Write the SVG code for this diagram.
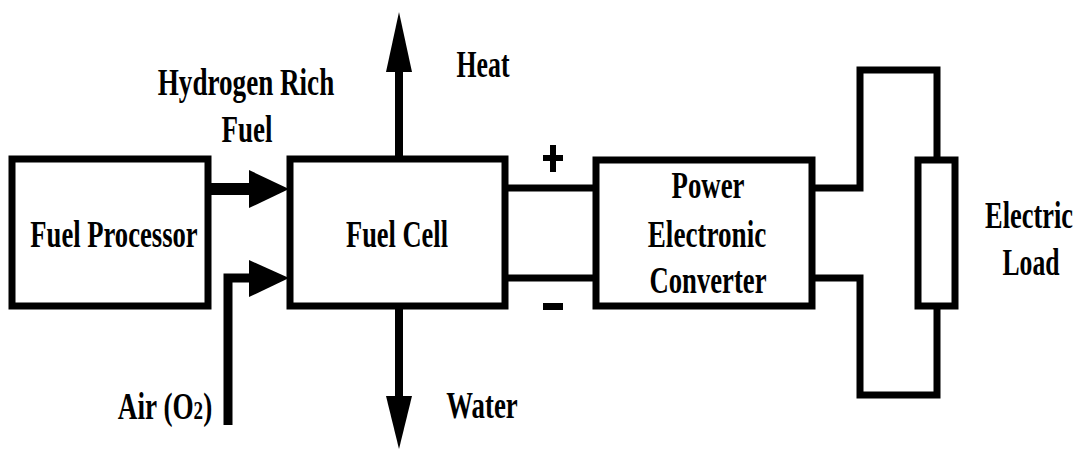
<svg xmlns="http://www.w3.org/2000/svg" width="1079" height="449" viewBox="0 0 1079 449">
  <style>
    .box { fill: #fff; stroke: #000; stroke-width: 7; }
    .wire { fill: none; stroke: #000; stroke-width: 7; stroke-linejoin: miter; stroke-linecap: butt; }
    .head { fill: #000; stroke: none; }
    .sign { fill: #000; }
    text { font-family: "Liberation Serif", "Times New Roman", "DejaVu Serif", serif; font-weight: bold; font-size: 37px; fill: #000; text-anchor: middle; }
  </style>
  <rect width="1079" height="449" fill="#fff"/>

  <g id="connectors">
    <!-- Hydrogen rich fuel arrow -->
    <line class="wire" x1="210" y1="189" x2="252" y2="189" style="stroke-width:12"/>
    <polygon class="head" points="249,170 289,189 249,208"/>
    <!-- Air arrow -->
    <polyline class="wire" points="228,425 228,278 252,278" style="stroke-width:9"/>
    <polygon class="head" points="249,260 289,278 249,297"/>
    <!-- Heat arrow -->
    <line class="wire" x1="399" y1="157" x2="399" y2="70" style="stroke-width:8"/>
    <polygon class="head" points="386,72 399,12 412,72"/>
    <!-- Water arrow -->
    <line class="wire" x1="399" y1="308" x2="399" y2="399" style="stroke-width:8"/>
    <polygon class="head" points="386,396 412,396 399,449"/>
    <!-- DC wires -->
    <line class="wire" x1="505" y1="188" x2="596" y2="188"/>
    <line class="wire" x1="505" y1="278" x2="596" y2="278"/>
    <!-- Load wires -->
    <polyline class="wire" points="812,188 860,188 860,70 937,70 937,160"/>
    <polyline class="wire" points="812,278 860,278 860,395 937,395 937,306"/>
  </g>

  <g id="fuel-processor">
    <rect class="box" x="12" y="159" width="196" height="147"/>
    <text transform="translate(114,247) scale(0.72,1)">Fuel Processor</text>
  </g>

  <g id="fuel-cell">
    <rect class="box" x="290" y="159" width="215" height="147"/>
    <text transform="translate(397,247) scale(0.714,1)">Fuel Cell</text>
  </g>

  <g id="power-converter">
    <rect class="box" x="596" y="160" width="216" height="146"/>
    <text transform="translate(708,198) scale(0.725,1)">Power</text>
    <text transform="translate(707,247) scale(0.733,1)">Electronic</text>
    <text transform="translate(708,293) scale(0.721,1)">Converter</text>
  </g>

  <g id="electric-load">
    <rect class="box" x="918" y="160" width="37" height="146"/>
    <text transform="translate(1029,228) scale(0.714,1)">Electric</text>
    <text transform="translate(1031,275) scale(0.693,1)">Load</text>
  </g>

  <g id="labels">
    <text transform="translate(246,95) scale(0.733,1)">Hydrogen Rich</text>
    <text transform="translate(247,142) scale(0.73,1)">Fuel</text>
    <text transform="translate(483,77) scale(0.697,1)">Heat</text>
    <text transform="translate(482,418) scale(0.725,1)">Water</text>
    <text transform="translate(165,419) scale(0.736,1)">Air (O<tspan font-size="26">2</tspan>)</text>
  </g>

  <g id="polarity">
    <rect class="sign" x="543" y="155" width="20" height="6"/>
    <rect class="sign" x="550" y="145" width="6" height="27"/>
    <rect class="sign" x="543" y="303" width="20" height="7"/>
  </g>
</svg>
